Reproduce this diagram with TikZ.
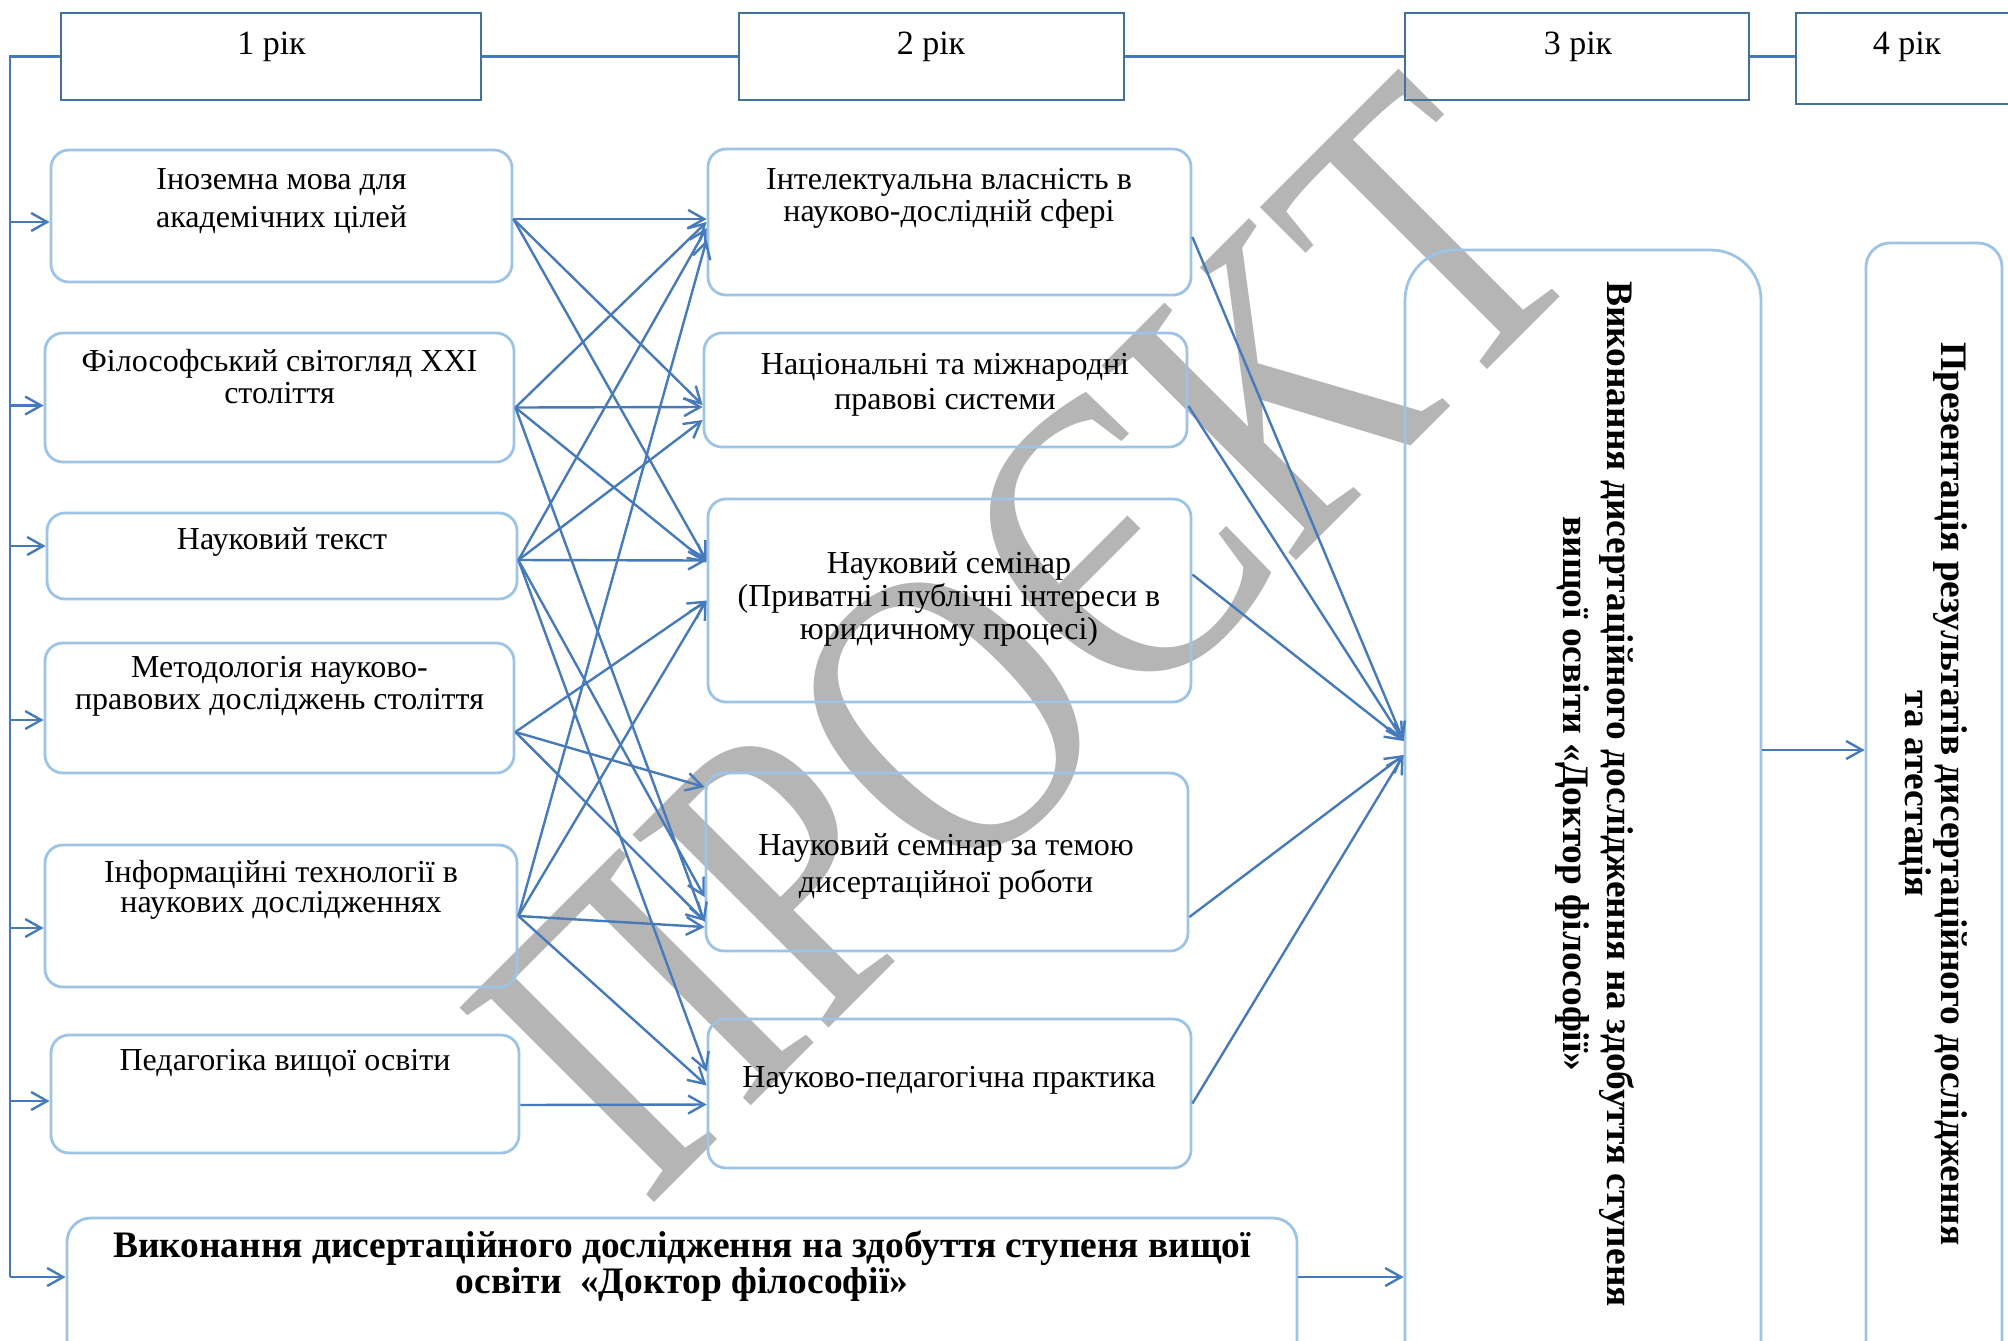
\documentclass[tikz,border=0pt]{standalone}
\usepackage{fontspec}
\setmainfont{Liberation Serif}
\usetikzlibrary{arrows.meta,positioning}

\definecolor{linkblue}{RGB}{70,122,186}
\definecolor{boxblue}{RGB}{157,195,230}
\definecolor{yearblue}{RGB}{65,113,156}
\definecolor{wmgray}{RGB}{181,181,181}

\begin{document}
\begin{tikzpicture}[x=1pt,y=-1pt,
		year/.style={draw=yearblue,line width=1.3pt,inner sep=0pt},
		subj/.style={draw=boxblue,line width=1.4pt,rounded corners=9pt,inner sep=0pt},
		txt/.style={align=center,inner sep=0pt,font=\fontsize{16}{16.5}\selectfont},
		bold/.style={align=center,inner sep=0pt},
		link/.style={draw=linkblue,line width=1.2pt,-{Straight Barb[length=8pt,width=9pt]}},
		trunk/.style={draw=linkblue,line width=1.2pt}]
	\useasboundingbox (0,0) rectangle (1004,670);
	\clip (0,0) rectangle (1004,670);
	%% watermark
	\node[text=wmgray,font=\fontsize{210}{210}\selectfont,rotate=45,xscale=0.81,anchor=base west,inner sep=0pt] (stamp) at (323.5,605) {ПРОЄКТ};
	%% years
	\node[year,minimum width=210pt,minimum height=43.5pt] (y1) at (135.5,28.25) {};
	\node[year,minimum width=192.5pt,minimum height=43.5pt] (y2) at (465.75,28.25) {};
	\node[year,minimum width=172pt,minimum height=43.5pt] (y3) at (788.5,28.25) {};
	\node[year,minimum width=117pt,minimum height=45.5pt] (y4) at (956.5,29.25) {};
	\node[txt,font=\fontsize{17}{17}\selectfont] (y1t) at (135.75,23.5) {1 рік};
	\node[txt,font=\fontsize{17}{17}\selectfont] (y2t) at (465.5,23.5) {2 рік};
	\node[txt,font=\fontsize{17}{17}\selectfont] (y3t) at (789,23.5) {3 рік};
	\node[txt,font=\fontsize{17}{17}\selectfont] (y4t) at (953.5,23.5) {4 рік};
	%% first year
	\node[subj,minimum width=230.5pt,minimum height=66pt] (l1) at (140.75,108) {};
	\node[subj,minimum width=234.5pt,minimum height=64.5pt] (l2) at (139.75,198.75) {};
	\node[subj,minimum width=235pt,minimum height=43pt] (l3) at (141,278) {};
	\node[subj,minimum width=234.5pt,minimum height=65pt] (l4) at (139.75,354) {};
	\node[subj,minimum width=236pt,minimum height=71pt] (l5) at (140.5,458) {};
	\node[subj,minimum width=234pt,minimum height=59pt] (l6) at (142.5,547) {};
	\node[subj,rounded corners=12pt,minimum width=615pt,minimum height=81pt] (l7) at (341,649.5) {};
	\node[txt,font=\fontsize{16}{19}\selectfont] (l1t) at (140.75,100.5) {Іноземна мова для\\академічних цілей};
	\node[txt,font=\fontsize{16}{16}\selectfont] (l2t) at (139.75,188.5) {Філософський світогляд XXI\\століття};
	\node[txt] (l3t) at (141,271) {Науковий текст};
	\node[txt,font=\fontsize{16}{16}\selectfont] (l4t) at (139.75,343) {Методологія науково-\\правових досліджень століття};
	\node[txt,font=\fontsize{16}{15}\selectfont] (l5t) at (140.5,445) {Інформаційні технології в\\наукових дослідженнях};
	\node[txt] (l6t) at (142.5,531.5) {Педагогіка вищої освіти};
	\node[bold,font=\fontsize{18.7}{18}\selectfont\bfseries] (l7t) at (341,633) {Виконання дисертаційного дослідження на здобуття ступеня вищої\\освіти~~«Доктор філософії»};
	%% second year
	\node[subj,minimum width=241.5pt,minimum height=73pt] (mA) at (474.75,111) {};
	\node[subj,minimum width=241.5pt,minimum height=57pt] (mB) at (472.75,195) {};
	\node[subj,minimum width=241.5pt,minimum height=101.5pt] (mC) at (474.75,300.25) {};
	\node[subj,minimum width=241pt,minimum height=89pt] (mD) at (473.5,431) {};
	\node[subj,minimum width=241.5pt,minimum height=74.5pt] (mE) at (474.75,546.75) {};
	\node[txt,font=\fontsize{16}{16}\selectfont] (mAt) at (474.5,99) {Інтелектуальна власність в\\науково-дослідній сфері};
	\node[txt,font=\fontsize{16}{17.5}\selectfont] (mBt) at (472.5,192.5) {Національні та міжнародні\\правові системи};
	\node[txt] (mCt) at (474.5,299.5) {Науковий семінар\\(Приватні і публічні інтереси в\\юридичному процесі)};
	\node[txt,font=\fontsize{16}{18.5}\selectfont] (mDt) at (473,433) {Науковий семінар за темою\\дисертаційної роботи};
	\node[txt] (mEt) at (474.5,540) {Науково-педагогічна практика};
	%% third and fourth year
	\node[subj,rounded corners=25pt,minimum width=178pt,minimum height=595pt] (b3) at (791.5,422.5) {};
	\node[subj,rounded corners=12pt,minimum width=68pt,minimum height=598.5pt] (b4) at (967,420.75) {};
	\node[bold,rotate=-90,font=\fontsize{18.7}{22}\selectfont\bfseries] (b3t) at (797.5,397) {Виконання дисертаційного дослідження на здобуття ступеня\\вищої освіти «Доктор філософії»};
	\node[bold,rotate=-90,font=\fontsize{18.7}{16.5}\selectfont\bfseries] (b4t) at (966.75,397) {Презентація результатів дисертаційного дослідження\\та атестація};
	%% time line
	\coordinate (foot) at (5,638.5);
	\draw[trunk] (y1.west) -| (foot);
	\draw[trunk] (y1.east) -- (y2.west);
	\draw[trunk] (y2.east) -- (y3.west);
	\draw[trunk] (y3.east) -- (y3.east -| y4.west);
	\draw[link] ([yshift=-3pt]l1.west -| foot) -- ([yshift=-3pt]l1.west);
	\draw[link] ([yshift=-4pt]l2.west -| foot) -- ([yshift=-4pt]l2.west);
	\draw[link] ([yshift=5pt]l3.west -| foot) -- ([yshift=5pt]l3.west);
	\draw[link] ([yshift=-6pt]l4.west -| foot) -- ([yshift=-6pt]l4.west);
	\draw[link] ([yshift=-6pt]l5.west -| foot) -- ([yshift=-6pt]l5.west);
	\draw[link] ([yshift=-3.5pt]l6.west -| foot) -- ([yshift=-3.5pt]l6.west);
	\draw[link] (foot) -- (foot -| l7.west);
	%% first year to second year
	\draw[link] ([yshift=-1.5pt]l1.east) -- ([yshift=1.5pt]mA.west);
	\draw[link] ([yshift=-1.5pt]l1.east) -- ([yshift=-7.5pt]mB.west);
	\draw[link] ([yshift=-1.5pt]l1.east) -- ([yshift=20pt]mC.west);
	\draw[link] ([yshift=-5pt]l2.east) -- (mA.west);
	\draw[link] ([yshift=-5pt]l2.east) -- ([yshift=-8.5pt]mB.west);
	\draw[link] ([yshift=-5pt]l2.east) -- ([yshift=19pt]mC.west);
	\draw[link] ([yshift=-5pt]l2.east) -- ([yshift=-30pt]mD.west);
	\draw[link] ([yshift=-2pt]l3.east) -- ([yshift=-3pt]mA.west);
	\draw[link] ([yshift=-2pt]l3.east) -- ([yshift=-15pt]mB.west);
	\draw[link] ([yshift=-2pt]l3.east) -- ([yshift=20pt]mC.west);
	\draw[link] ([yshift=-2pt]l3.east) -- ([yshift=-17.5pt]mD.west);
	\draw[link] ([yshift=-2pt]l3.east) -- ([yshift=11pt]mE.west);
	\draw[link] ([yshift=-12pt]l4.east) -- (mC.west);
	\draw[link] ([yshift=-12pt]l4.east) -- ([yshift=37.5pt]mD.west);
	\draw[link] ([yshift=-12pt]l4.east) -- ([yshift=-29.5pt]mD.west);
	\draw[link] (l5.east) -- ([yshift=-9pt]mA.west);
	\draw[link] (l5.east) -- (mC.west);
	\draw[link] (l5.east) -- ([yshift=-32.5pt]mD.west);
	\draw[link] (l5.east) -- ([yshift=4pt]mE.west);
	\draw[link] ([yshift=-5.5pt]l6.east) -- ([yshift=-5.5pt]mE.west);
	%% second year to third year
	\coordinate (hub) at ([yshift=52pt]b3.west);
	\coordinate (hub2) at ([yshift=45pt]b3.west);
	\draw[link] ([yshift=-7.5pt]mA.east) -- (hub);
	\draw[link] ([yshift=-8pt]mB.east) -- (hub);
	\draw[link] ([yshift=13pt]mC.east) -- (hub);
	\draw[link] ([yshift=-27.5pt]mD.east) -- (hub2);
	\draw[link] ([yshift=-5pt]mE.east) -- (hub2);
	\draw[link] ([yshift=11pt]l7.east) -- ([yshift=11pt]l7.east -| b3.west);
	\draw[link] ([yshift=47.5pt]b3.east) -- ([yshift=47.5pt]b3.east -| b4.west);
\end{tikzpicture}
\end{document}
